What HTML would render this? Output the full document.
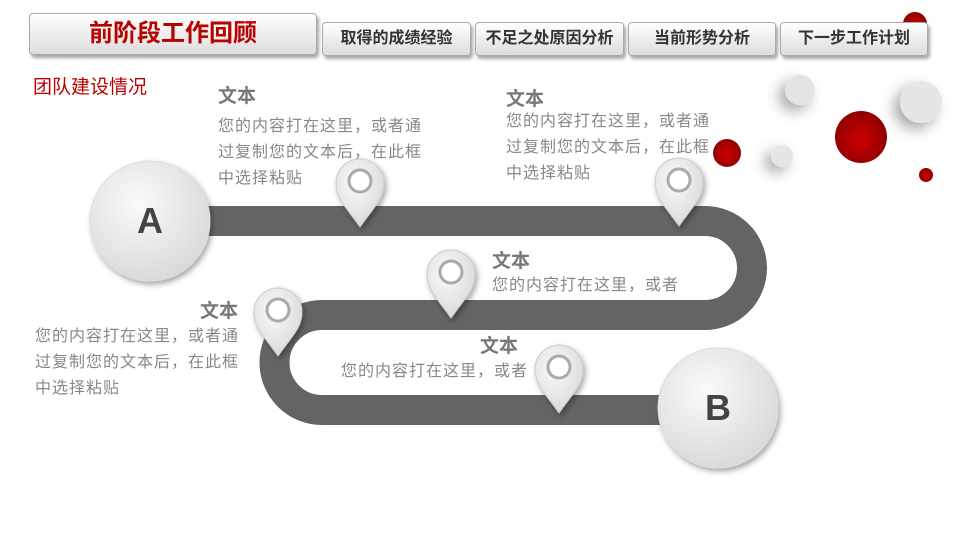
<!DOCTYPE html>
<html><head><meta charset="utf-8"><style>
body{margin:0;width:960px;height:540px;overflow:hidden;background:#fff;font-family:"Liberation Sans","Noto Sans CJK SC",sans-serif;position:relative}
.t{position:absolute;white-space:nowrap}
.tab{position:absolute;border:1px solid #aaa;border-radius:4px;background:linear-gradient(#fff,#ddd);box-shadow:2px 3px 3px rgba(0,0,0,.35);text-align:center;font-weight:bold;color:#333}
.h{font-size:19px;font-weight:bold;color:#777}
.p{font-size:16px;color:#888;line-height:26px;letter-spacing:1px}
</style></head><body>
<svg width="960" height="540" style="position:absolute;left:0;top:0">
<defs>
<radialGradient id="g" cx="40%" cy="35%" r="70%"><stop offset="0" stop-color="#fafafa"/><stop offset="1" stop-color="#d8d8d8"/></radialGradient>
<radialGradient id="r" cx="50%" cy="55%" r="60%"><stop offset="0" stop-color="#c00"/><stop offset="1" stop-color="#8a0000"/></radialGradient>
<filter id="s" x="-50%" y="-50%" width="200%" height="200%"><feDropShadow dx="2" dy="3" stdDeviation="3" flood-opacity=".35"/></filter>
<filter id="s2" x="-100%" y="-100%" width="300%" height="300%"><feDropShadow dx="-6" dy="6" stdDeviation="7" flood-opacity=".35"/></filter>
<g id="pin"><path d="M0 0 C-14 -20 -24 -28 -24 -44 A24 24 0 0 1 24 -44 C24 -28 14 -20 0 0Z" fill="url(#g)" stroke="#ccc" filter="url(#s)"/><circle cx="0" cy="-46" r="11" fill="#fff" stroke="#aaa" stroke-width="3"/></g>
</defs>
<circle cx="915" cy="24" r="12" fill="url(#r)"/>
<path d="M200 221 H705 A47 47 0 0 1 705 315 H322 A47.5 47.5 0 0 0 322 410 H720" fill="none" stroke="#646464" stroke-width="30"/>
<circle cx="800" cy="90" r="15" fill="#e4e4e4" filter="url(#s2)"/>
<circle cx="921" cy="102" r="21" fill="#e6e6e6" filter="url(#s2)"/>
<circle cx="861" cy="137" r="26" fill="url(#r)"/>
<circle cx="727" cy="153" r="14" fill="url(#r)"/>
<circle cx="782" cy="156" r="11" fill="#e6e6e6" filter="url(#s2)"/>
<circle cx="926" cy="175" r="7" fill="url(#r)"/>
<circle cx="150" cy="221" r="60" fill="url(#g)" stroke="#ddd" filter="url(#s)"/>
<circle cx="718" cy="408" r="60" fill="url(#g)" stroke="#ddd" filter="url(#s)"/>
<use href="#pin" x="360" y="227"/>
<use href="#pin" x="679" y="226"/>
<use href="#pin" x="451" y="318"/>
<use href="#pin" x="278" y="356"/>
<use href="#pin" x="559" y="413"/>
<text x="150" y="233" font-size="36" font-weight="bold" fill="#444" text-anchor="middle" font-family="Liberation Sans">A</text>
<text x="718" y="420" font-size="36" font-weight="bold" fill="#444" text-anchor="middle" font-family="Liberation Sans">B</text>
</svg>
<div class="tab" style="left:29px;top:13px;width:286px;height:40px;line-height:40px;font-size:24px;color:#b00">前阶段工作回顾</div>
<div class="tab" style="left:322px;top:22px;width:147px;height:32px;line-height:32px;font-size:16px">取得的成绩经验</div>
<div class="tab" style="left:475px;top:22px;width:147px;height:32px;line-height:32px;font-size:16px">不足之处原因分析</div>
<div class="tab" style="left:628px;top:22px;width:146px;height:32px;line-height:32px;font-size:16px">当前形势分析</div>
<div class="tab" style="left:780px;top:22px;width:146px;height:32px;line-height:32px;font-size:16px">下一步工作计划</div>
<div class="t" style="left:33px;top:72px;font-size:19px;color:#b00">团队建设情况</div>
<div class="t h" style="left:218px;top:81px">文本</div>
<div class="t p" style="left:218px;top:114px">您的内容打在这里，或者通<br>过复制您的文本后，在此框<br>中选择粘贴</div>
<div class="t h" style="left:506px;top:84px">文本</div>
<div class="t p" style="left:506px;top:109px">您的内容打在这里，或者通<br>过复制您的文本后，在此框<br>中选择粘贴</div>
<div class="t h" style="left:492px;top:246px">文本</div>
<div class="t p" style="left:492px;top:273px">您的内容打在这里，或者</div>
<div class="t h" style="left:200px;top:296px">文本</div>
<div class="t p" style="left:35px;top:324px">您的内容打在这里，或者通<br>过复制您的文本后，在此框<br>中选择粘贴</div>
<div class="t h" style="left:480px;top:331px">文本</div>
<div class="t p" style="left:341px;top:359px">您的内容打在这里，或者</div>
</body></html>
